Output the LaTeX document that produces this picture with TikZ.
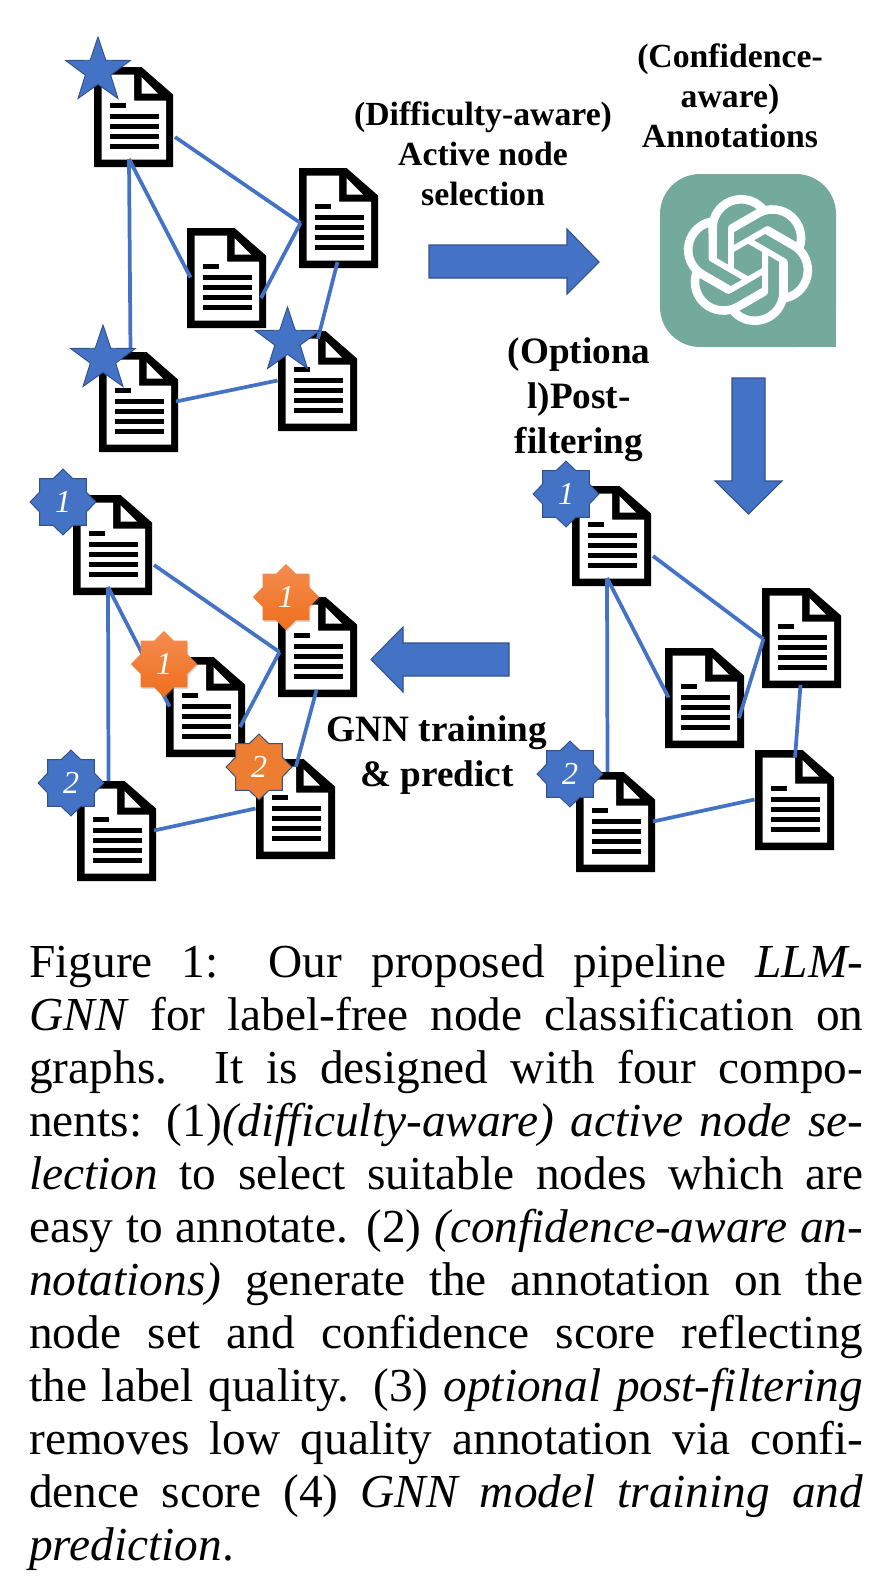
\documentclass[tikz,border=0pt]{standalone}
\usepackage{fontspec}
\setmainfont{Liberation Serif}
\usetikzlibrary{shapes.geometric,shadows,svg.path}
\definecolor{nodeblue}{HTML}{4472C4}
\definecolor{rimblue}{HTML}{2F528F}
\definecolor{logogreen}{HTML}{74AA9C}
\definecolor{orangetop}{HTML}{F48C50}
\definecolor{orangelow}{HTML}{EE6F1C}
\definecolor{orangeflat}{HTML}{ED7D31}
\tikzset{
  docbox/.style={rectangle,minimum width=59.25pt,minimum height=75pt,inner sep=0pt,anchor=north west},
  link/.style={nodeblue,line width=2.8pt},
  bigarrow/.style={fill=nodeblue,draw=rimblue,line width=0.8pt},
  pickstar/.style={star,star points=5,star point ratio=2.55,minimum size=51pt,inner sep=0pt,fill=nodeblue,draw=rimblue,line width=0.7pt},
  badge/.style={star,star points=8,star point ratio=1.3,minimum size=49.5pt,inner sep=0pt,text=white,font=\fontsize{24}{24}\selectfont\itshape},
  blueb/.style={badge,fill=nodeblue,draw=rimblue,line width=0.7pt},
  softb/.style={badge,top color=orangetop,bottom color=orangelow,drop shadow={shadow xshift=0.8pt,shadow yshift=-1.2pt,opacity=0.3}},
  flatb/.style={badge,fill=orangeflat,draw=rimblue,line width=0.7pt},
  steptext/.style={align=center,inner sep=0pt,font=\fontsize{25.3}{30}\selectfont\bfseries},
  bigtext/.style={align=center,inner sep=0pt,font=\fontsize{27.9}{33.6}\selectfont\bfseries},
}
\newcommand{\docicon}[3]{
  \node[docbox] (#1) at (#2,#3) {};
  \begin{scope}[shift={(#1.north west)}]
    \fill (0,0) -- (47.5,0) -- (79,27.5) -- (79,100) -- (0,100) -- cycle;
    \fill[white] (7.5,7.5) -- (40,7.5) -- (40,33.5) -- (72,33.5) -- (72,92.5) -- (7.5,92.5) -- cycle;
    \fill[white] (47.5,10) -- (64,26.5) -- (47.5,26.5) -- cycle;
    \fill (15.5,36) rectangle (32,41);
    \foreach \docline in {49,59,69,79}
      \fill (15.5,\docline-2.5) rectangle (64.5,\docline+2.5);
  \end{scope}}
\newcommand{\doclinks}[3]{
  \coordinate (#1a-low) at ([shift={(35,92)}]#1a.north west);
  \coordinate (#1a-side) at ([shift={(81,70)}]#1a.north west);
  \coordinate (#1b-side) at ([shift={(1.5,#2)}]#1b.north west);
  \coordinate (#1b-low) at ([shift={(38.5,#3)}]#1b.north west);
  \coordinate (#1c-side) at ([shift={(3.5,49.5)}]#1c.north west);
  \coordinate (#1c-far) at ([shift={(74,70)}]#1c.north west);
  \coordinate (#1d-top) at ([shift={(31.5,0)}]#1d.north west);
  \coordinate (#1d-side) at ([shift={(77,49.5)}]#1d.north west);
  \coordinate (#1e-top) at ([shift={(40,7.5)}]#1e.north west);
  \coordinate (#1e-side) at ([shift={(-0.5,49.5)}]#1e.north west);
  \draw[link] (#1a-low) to (#1d-top);
  \draw[link] (#1a-low) to (#1c-side);
  \draw[link] (#1a-side) to (#1b-side);
  \draw[link] (#1b-side) to (#1c-far);
  \draw[link] (#1b-low) to (#1e-top);
  \draw[link] (#1d-side) to (#1e-side);}
\begin{document}
\begin{tikzpicture}[x=0.75pt,y=-0.75pt]
  \useasboundingbox (0,0) rectangle (880,1578);

  \docicon{ta}{94}{67}
  \docicon{tb}{299}{168}
  \docicon{tc}{187}{228}
  \docicon{td}{99}{352}
  \docicon{te}{278}{331}
  \doclinks{t}{55}{94}
  \node[pickstar] (tstara) at (98,71) {};
  \node[pickstar] (tstard) at (103,359) {};
  \node[pickstar] (tstare) at (287.5,341) {};

  \docicon{ra}{572}{486}
  \docicon{rb}{762}{588}
  \docicon{rc}{665}{648}
  \docicon{rd}{576}{772}
  \docicon{re}{755}{750}
  \doclinks{r}{51}{97}
  \node[blueb] (rbadgea) at (566,494) {1};
  \node[blueb] (rbadged) at (570,774) {2};

  \docicon{la}{73}{495}
  \docicon{lb}{278}{597}
  \docicon{lc}{166}{657}
  \docicon{ld}{77}{781}
  \docicon{le}{256}{759}
  \doclinks{l}{55}{93}
  \node[blueb] (lbadgea) at (63,502) {1};
  \node[blueb] (lbadged) at (71,783) {2};
  \node[softb] (lbadgeb) at (286,597) {1};
  \node[softb] (lbadgec) at (164,664) {1};
  \node[flatb] (lbadgee) at (259,767) {2};

  \draw[bigarrow] (429,245) -- (567,245) -- (567,229) -- (599,262) -- (567,294) -- (567,278) -- (429,278) -- cycle;
  \draw[bigarrow] (732,378) -- (765,378) -- (765,481) -- (782,481) -- (748.5,514) -- (715,481) -- (732,481) -- cycle;
  \draw[bigarrow] (509,643) -- (403,643) -- (403,627) -- (371,659.5) -- (403,692) -- (403,676) -- (509,676) -- cycle;

  \fill[logogreen,rounded corners=30pt] (660,174) -- (836,174) -- (836,260) -- (836,347) -- (660,347) -- cycle;
  \fill[logogreen] (790,300) rectangle (836,347);
  \begin{scope}[shift={(683,195)},scale=4.0625,yscale=-1]
    \fill[white] svg {M 22.2819 9.8211 a 5.9847 5.9847 0 0 0 -0.5157 -4.9108 a 6.0462 6.0462 0 0 0 -6.5098 -2.9 A 6.0651 6.0651 0 0 0 4.9807 4.1818 a 5.9847 5.9847 0 0 0 -3.9977 2.9 a 6.0462 6.0462 0 0 0 0.7427 7.0966 a 5.98 5.98 0 0 0 0.511 4.9107 a 6.051 6.051 0 0 0 6.5146 2.9001 A 5.9847 5.9847 0 0 0 13.2599 24 a 6.0557 6.0557 0 0 0 5.7718 -4.2058 a 5.9894 5.9894 0 0 0 3.9977 -2.9001 a 6.0557 6.0557 0 0 0 -0.7475 -7.0729 z
    M 13.2599 22.4292 a 4.4755 4.4755 0 0 1 -2.8764 -1.0408 l 0.1419 -0.0804 l 4.7783 -2.7582 a 0.7948 0.7948 0 0 0 0.3927 -0.6813 v -6.7369 l 2.02 1.1686 l 0.038 0.052 v 5.5826 a 4.504 4.504 0 0 1 -4.4945 4.4944 z
    M 3.5992 18.3038 a 4.4708 4.4708 0 0 1 -0.5346 -3.0137 l 0.142 0.0852 l 4.783 2.7582 a 0.7712 0.7712 0 0 0 0.7806 0 l 5.8428 -3.3685 v 2.3324 l -0.0332 0.0615 L 9.74 19.9502 a 4.4992 4.4992 0 0 1 -6.1408 -1.6464 z
    M 2.3408 7.8956 a 4.485 4.485 0 0 1 2.3655 -1.9728 V 11.6 a 0.7664 0.7664 0 0 0 0.3879 0.6765 l 5.8144 3.3543 l -2.0201 1.1685 l -0.071 0 l -4.8303 -2.7865 A 4.504 4.504 0 0 1 2.3408 7.872 z
    M 18.9371 11.7514 L 13.1038 8.364 L 15.1192 7.2 l 0.071 0 l 4.8303 2.7913 a 4.4944 4.4944 0 0 1 -0.6765 8.1042 v -5.6772 a 0.79 0.79 0 0 0 -0.407 -0.667 z
    M 20.9478 8.7283 l -0.142 -0.0852 l -4.7735 -2.7818 a 0.7759 0.7759 0 0 0 -0.7854 0 L 9.409 9.2297 V 6.8974 l 0.0284 -0.0615 l 4.8303 -2.7866 a 4.4992 4.4992 0 0 1 6.6802 4.66 z
    M 8.3065 12.863 l -2.02 -1.1638 l -0.038 -0.0567 V 6.0742 a 4.4992 4.4992 0 0 1 7.3757 -3.4537 l -0.142 0.0805 L 8.704 5.459 a 0.7948 0.7948 0 0 0 -0.3927 0.6813 z
    M 9.4041 10.4976 l 2.602 -1.4998 l 2.6069 1.4998 v 2.9994 l -2.5974 1.4997 l -2.6067 -1.4997 z};
  \end{scope}

  \node[steptext,anchor=base] (activetext) at (483,205) {(Difficulty-aware)\\Active node\\selection};
  \node[steptext,anchor=base] (annotext) at (730,147) {(Confidence-\\aware)\\Annotations};
  \node[bigtext,anchor=base] (filtertext) at (579,453) {(Optiona\\l)Post-\\filtering};
  \node[bigtext,anchor=base] (gnntext) at (437,786) {GNN training\\\& predict};

  \node[anchor=base west,inner sep=0pt,text width=625.5pt,align=justify,font=\fontsize{35.5}{39.75}\selectfont] (caption) at (29,977) {Figure 1: Our proposed pipeline \textit{LLM-}\linebreak
  \textit{GNN} for label-free node classification on\linebreak
  graphs. It is designed with four compo-\linebreak
  nents: (1)\textit{(difficulty-aware) active node se-}\linebreak
  \textit{lection} to select suitable nodes which are\linebreak
  easy to annotate. (2) \textit{(confidence-aware an-}\linebreak
  \textit{notations)} generate the annotation on the\linebreak
  node set and confidence score reflecting\linebreak
  the label quality. (3) \textit{optional post-filtering}\linebreak
  removes low quality annotation via confi-\linebreak
  dence score (4) \textit{GNN model training and}\linebreak
  \textit{prediction}.};
\end{tikzpicture}
\end{document}
